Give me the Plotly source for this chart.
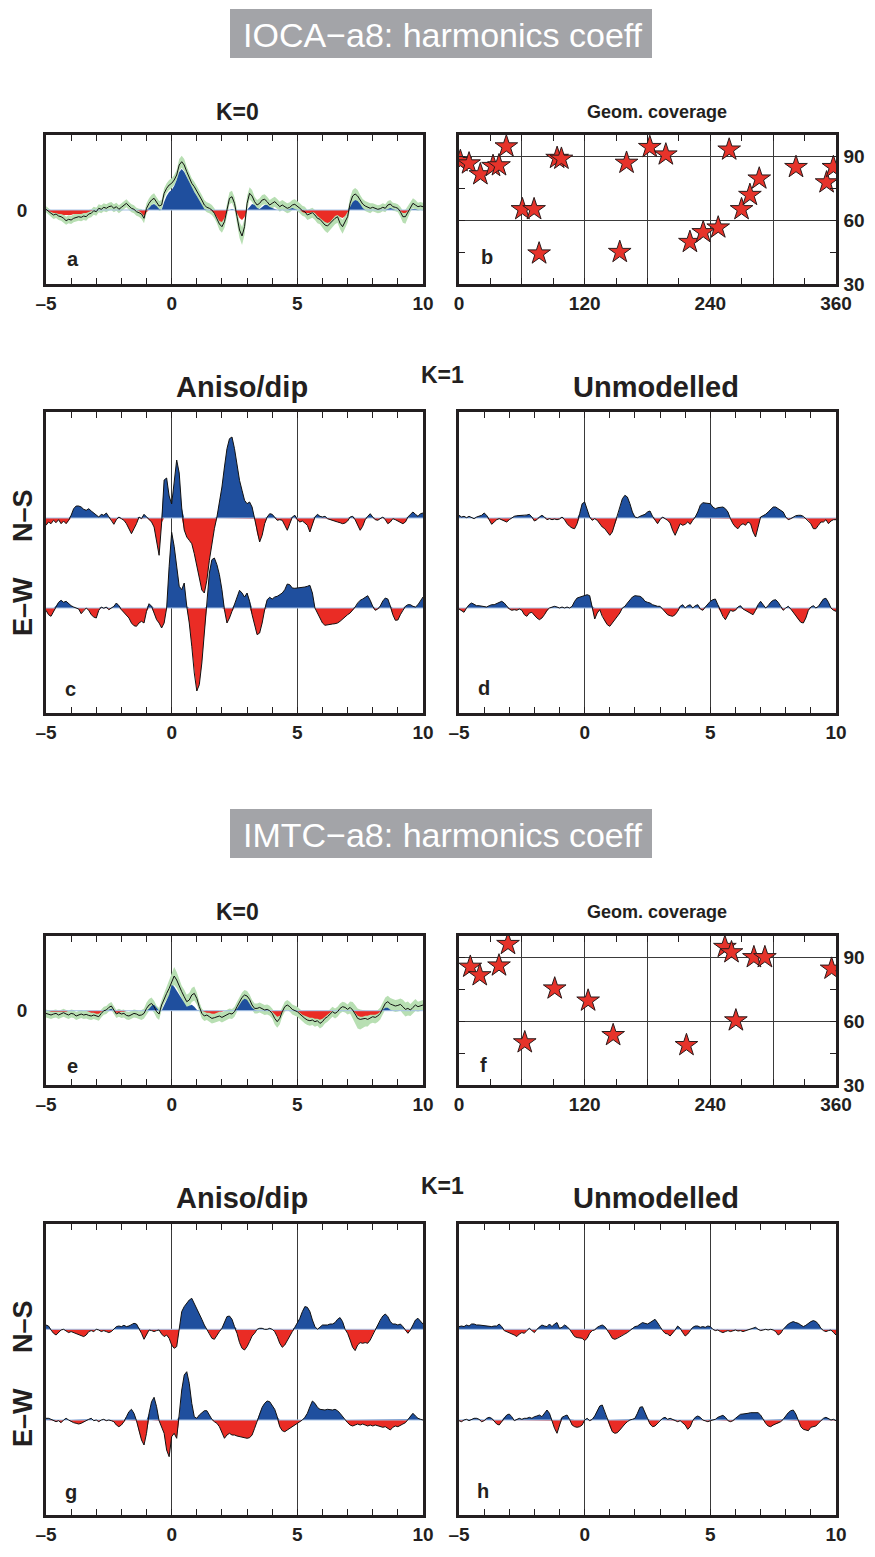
import numpy as np
import plotly.graph_objects as go

# the page body keeps its default 8px margin; keep the figure inside the window
OX, OY = 8, 8
FW, FH = 875 - 2 * OX, 1557 - 2 * OY
INK = "#231f20"
BLUE = "#1f4f9e"
RED = "#ea2c25"
GREEN = "#b8dfb3"
BASE = "#a6c2e6"
FONT = "Liberation Sans, Arial, sans-serif"

# ---- time lag axis (samples every 0.1) ----
lag = np.round(np.linspace(-5, 10, 151), 1)

# ---- panel a : IOCA K=0 (mean trace, fill trace, half-width of band) ----
a_mean = [0.7, -1.7, -3.3, -5, -4, -6, -6.7, -8.3, -10.7, -9.3,
          -10, -8.3, -7.7, -6.7, -7.3, -6, -6.7, -4, -3.3, -0.7,
          -1.7, 1.7, 0.7, 2.7, 1.7, 3.3, 4, 1.7, 3.3, 0.7,
          2.7, 5, 6.7, 4, 1.7, 0.7, -1.7, -2.7, -4, -8.3,
          1.7, 6.7, 10, 11.7, 8.3, 4, 5, 16.7, 21.7, 25,
          26.7, 30, 35, 45, 48.3, 45, 38.3, 31.7, 26.7, 23.3,
          19.3, 15, 10, 5, 2.7, 1.7, 0, -3.3, -8.3, -14,
          -16.7, -11.7, 0, 11.7, 13.3, 6.7, -6.7, -20, -26, -16.7,
          6.7, 16.7, 14, 8.3, 5, 6.7, 10, 10.7, 8.3, 5,
          6.7, 8.3, 6, 3.3, 5, 3.3, 1.7, 2.7, 5, 5.7,
          4, 1.7, -0.7, -1.7, -5, -4, -2.7, -5, -8.3, -9.3,
          -11.7, -15, -16, -13.3, -10.7, -8.3, -6.7, -13.3, -16.7, -11.7,
          -6.7, 6.7, 14, 16, 14, 10, 6, 4, 2.7, 1.7,
          2.7, 1.7, 0.7, 1.3, 2.7, 1.7, 5, 6, 3.3, 2.7,
          1.7, -1.7, -6.7, -6.7, -1.7, 3.3, 6.7, 5, 3.3, 4,
          3.3]
a_fill = [0, -1, -2, -3, -3, -4, -4, -5, -5, -5,
          -5, -4, -4, -4, -4, -3, -3, -2, -1, 0,
          0, 0, 0, 0, 0, 0, 0, 0, 0, 0,
          0, 0, 0, 0, 0, 0, 0, -1, -3, -6,
          -2, 2, 5, 6, 4, 1, 0, 8, 14, 18,
          20, 24, 30, 38, 41, 38, 33, 27, 22, 18,
          14, 10, 5, 1, 0, 0, -1, -3, -7, -11,
          -12, -8, -1, 0, 1, 0, -3, -8, -10, -7,
          0, 3, 6, 5, 2, 1, 3, 5, 5, 3,
          2, 1, 0, 0, 0, 0, 0, 1, 2, 1,
          0, 0, -2, -3, -3, -3, -2, -3, -6, -8,
          -10, -12, -13, -12, -9, -6, -5, -7, -8, -6,
          -2, 3, 8, 10, 9, 6, 2, 0, 0, 0,
          0, 0, 0, 0, 0, 0, 1, 2, 1, 0,
          0, -1, -3, -3, -1, 0, 1, 1, 0, 0,
          0]
a_err = [3, 3, 3, 4, 4, 4, 4, 4, 4, 4,
         4, 4, 4, 4, 4, 4, 4, 4, 4, 4,
         4, 4, 4, 4, 4, 4, 4, 4, 4, 4,
         4, 4, 4, 4, 4, 4, 4, 4, 5, 5,
         5, 5, 5, 5, 5, 5, 5, 5, 5, 5,
         5, 5, 5, 6, 6, 6, 5, 5, 5, 5,
         5, 5, 5, 5, 5, 5, 5, 5, 5, 6,
         6, 6, 6, 6, 6, 6, 7, 8, 9, 8,
         7, 6, 6, 5, 5, 5, 5, 5, 5, 5,
         5, 5, 5, 5, 5, 5, 5, 5, 5, 5,
         5, 5, 5, 5, 5, 5, 5, 5, 5, 5,
         6, 6, 7, 7, 6, 6, 6, 6, 7, 7,
         6, 6, 6, 6, 6, 5, 5, 5, 5, 5,
         4, 4, 4, 4, 4, 4, 4, 4, 4, 4,
         4, 5, 6, 7, 6, 5, 5, 5, 4, 4,
         4]

# ---- panel c : IOCA K=1 Aniso/dip ----
c_ns = [-7.3, -4, -5.7, -2.3, -4.7, -1.7, -5.7, -3, -5.7, -2.3,
        2.7, 9.3, 12, 12, 11, 8.7, 7.7, 9.3, 7, 5,
        3.7, 1, 3.7, 2.7, 5, 1, -1.7, -6.3, -1.7, 1,
        -0.7, -2.3, -5.7, -10.7, -15.7, -10.7, -5.7, 1, -0.7, 3.7,
        1, -1.7, -4, -9, -22.3, -37.3, -5, 38, 40, 22,
        14, 35, 58, 45, 10, -12, -19, -22.3, -25.7, -35.7,
        -47.3, -59, -72, -75, -62.3, -42.3, -24, -10.7, 1, 14.3,
        31, 51, 69.3, 79.3, 81, 69.3, 51, 37.7, 27.7, 17.7,
        14.3, 16, 11, -0.7, -15.7, -24, -17.3, -5.7, 1, 4.3,
        3.7, 1, -2.3, -1.7, -2.3, -7.3, -12.3, -5.7, 1, 2.7,
        -1.7, -4, -3, -5, -7.3, -14, -7.3, 1, 3.7, 1.7,
        1, 1.7, -0.7, -1.7, -2.3, -3, -4, -4.7, -5.7, -5,
        -3, 1, 1.7, -1.7, -7.3, -12.3, -8.3, -1.7, 1.7, 4.3,
        1, -1.7, -2.3, -0.7, 1, -1.7, -5.7, -4, -0.7, -1.7,
        -3, -4, -5.7, -4, 1, 3.7, 6, 3.7, 1.7, 4.3,
        5]
c_ew = [-2.3, -6.7, -8.3, -3.3, 2.3, 5.7, 7.7, 5.7, 6.7, 4.3,
        2.3, 1, 0, -1, -5.7, -2.3, 0, -2.3, -6.7, -9,
        -10, -2.3, 1, -0.3, 1, -1.7, 0, 1.7, 5, 2.3,
        -1.7, -4.3, -6.7, -10, -15, -17.7, -18.3, -15, -13.3, -15,
        -3.3, 4.3, 1.7, -5, -11.7, -15, -20, -15, 0, 41.7,
        75.7, 61.7, 38.3, 21.7, 18.3, 25, 1.7, -15, -38.3, -65,
        -83, -76.7, -55, -25, 1.7, 35, 48.3, 50, 43.3, 33.3,
        18.3, -1.7, -15, -10, -3.3, 3.3, 11, 17.7, 15, 11,
        15, 6.7, -6.7, -18.3, -26.7, -25, -15, -1.7, 8.3, 10.7,
        9, 11, 11.7, 13.3, 15, 18.3, 24, 23.3, 20, 19.7,
        20, 20, 20.7, 21, 21.7, 22.7, 15, 0, -5, -10,
        -15, -17.3, -16.7, -16.7, -16, -15.7, -15, -13.3, -11, -8.3,
        -6.7, -5, -2.3, 1, 5, 7.7, 9, 11, 12.3, 7.7,
        1.7, -2.3, -1, 2, 7, 10, 9, 2, -6.7, -12.3,
        -12, -6.7, -1.7, 1.7, 3.3, 3.3, 1.7, 1, 3.3, 6.7,
        11]

# ---- panel d : IOCA K=1 Unmodelled ----
d_ns = [2.7, 1, 1.7, 0.3, 1.7, 0.3, -0.7, 1, 1.7, 2.7,
        5, 2.7, -1.7, -6.3, -4, -1.7, -0.7, -1.7, -2.3, -4,
        -1.7, 0.3, 1.7, 2.3, 2.3, 2.7, 2.3, 3, 3.7, 1,
        -3, -1.7, 1, 2.7, 1, -1.7, -0.7, -1.7, -1, -1.7,
        -1, 1, -1.7, -5.7, -8.3, -10, -10.7, -5.7, 4.3, 14.3,
        16, 9.3, 1, -2.3, -0.7, -2.3, -5.7, -9, -10.7, -14,
        -17.3, -14, -5.7, 1, 11, 19.3, 22.7, 21, 14.3, 6,
        1, 0.3, 1.7, 2.7, 3.7, 6, 7, 1.7, -2.3, -5.7,
        -1.7, 1, -0.7, -2.3, -5, -12.3, -17.3, -12.3, -5.7, -7.3,
        -6.3, -4, -6.3, -2.3, 1, 6, 12.7, 15.3, 15, 15,
        14.3, 11, 9.3, 10.3, 11, 11, 9.3, 6, -0.7, -5.7,
        -9, -10.7, -7.3, -5.7, -7.3, -4, -5.7, -14, -19, -9,
        1, 2.3, 3.7, 6, 8.3, 11, 11, 9.3, 8.3, 6,
        1, -1.7, -0.7, 1, 2.3, 2.7, 2.7, 1.7, -0.7, -2.3,
        -5.7, -10.7, -10.7, -7.3, -4, -4, -1.7, -5.7, -3, -1.7,
        -1.7]
d_ew = [-1, -2.3, -4.3, 0, 3.3, 5, 4, 2.3, 2.3, 1.7,
        1.7, 1, 2.3, 3.3, 3.3, 4.3, 5, 6.7, 5, 1.7,
        -1, -2.3, -1.7, -2.3, -1, -2.3, -6.7, -8.3, -5, -4.3,
        -7.7, -10, -11.7, -10, -6.7, -2.3, 0, 1, 1.7, 1,
        0, 1, 0, 1, 0, 1.7, 6.7, 10, 11, 11.7,
        12.3, 13.3, 12.3, 1.7, -11, -5, -1.7, -8.3, -13.3, -16.7,
        -18.3, -15, -11.7, -8.3, -5, 0, 1.7, 5, 8.3, 11,
        12.3, 12.3, 11.7, 10, 6.7, 5.7, 5, 3.3, 2.3, 1.7,
        1.7, -1, -4.3, -6.7, -7.7, -8.3, -6.7, -3.3, 1.7, 3.3,
        0, 2.3, 3.3, 0, 2.3, 3.3, -1, -2.3, 1, 4.3,
        6.7, 8.3, 9, 3.3, -3.3, -8.3, -11.7, -6.7, -2.3, -3.3,
        -2.3, 1, 2.3, -1, -2.3, -4.3, -5.7, -6.7, -2.3, 3.3,
        6.7, 3.3, 0, 2.3, 5.7, 7.7, 8.3, 5.7, 1, -2.3,
        0, 1.7, -1, -4.3, -8.3, -11.7, -14.3, -15, -10, -2.3,
        1, 2.3, 0, 1.7, 5.7, 9, 9.7, 5.7, 0, -2.3,
        -3.3]

# ---- panel e : IMTC K=0 ----
e_mean = [-2.7, -3.3, -4.3, -3.3, -2.7, -4.3, -3.3, -2, -3.3, -4.3,
          -2.7, -3.3, -5.3, -4.3, -3.3, -4.3, -3.7, -4.7, -5.3, -4.3,
          -5.3, -6, -2.7, 0, 0.7, 3.3, 4.7, 0.7, -3.3, -2,
          -3.3, -2.7, -4.7, -5.3, -4.3, -2.7, -3.3, -4.7, -4.3, -2.7,
          2.3, 5.7, 7.3, 4, -1, -3.3, 5.7, 12.3, 17.3, 22.3,
          29, 34.7, 30.7, 24, 19, 14, 9, 10.7, 15.7, 17.3,
          12.3, 4, -2.7, -5.3, -4.3, -6, -7.7, -7, -6, -5.3,
          -6.7, -5.3, -4.3, -2.7, -3.3, -1, 4, 9, 13.3, 15.7,
          14.7, 11.3, 5.7, 2.3, 2.3, 3.3, 2.3, 0.7, 1.3, 0,
          -2.7, -7.7, -11, -7.7, -1, 4, 5.7, 4, 1.3, 0,
          -1, -3.3, -6, -7.7, -9.3, -10, -9.3, -11, -10, -12.7,
          -11, -7.7, -6, -3.3, -1, -2.7, -1, 2.3, 4, 3.3,
          1.3, 3.3, 0.7, -3.3, -7.7, -8.7, -8.3, -7.7, -8.7, -7,
          -6, -6.7, -5.3, -2.7, 2.3, 7.3, 9, 6.7, 5.7, 4.7,
          5.3, 6.3, 4, 1.3, 2.3, 0.7, 3.3, 5.7, 4, 4.7,
          5.7]
e_fill = [0, 0, -1, -1, -1, -1, -1, -1, -1, 0,
          0, 0, 0, 0, 0, 0, 0, -1, -2, -2,
          -3, -3, -1, 0, 0, 1, 2, 0, -2, -2,
          -1, -1, 0, 0, 0, 0, 0, 0, 0, 0,
          0, 2, 5, 6, 3, 0, 0, 5, 10, 16,
          26, 24, 20, 16, 12, 8, 4, 5, 6, 4,
          1, 0, 0, -1, -2, -2, -3, -3, -2, -1,
          -1, 0, 0, 0, 0, 0, 2, 6, 10, 12,
          11, 7, 3, 1, 0, 0, 0, 0, 1, 0,
          -1, -4, -6, -5, -1, 0, 0, 0, 0, 0,
          0, -2, -4, -5, -6, -7, -7, -8, -8, -9,
          -8, -6, -4, -2, 0, 0, 0, 0, 0, 0,
          0, 0, 0, -2, -5, -6, -6, -5, -5, -4,
          -4, -4, -3, -1, 1, 3, 3, 1, 0, 0,
          0, 0, 0, 0, 0, 0, 0, 0, 0, 0,
          0]
e_err = [4, 4, 4, 4, 4, 4, 4, 4, 4, 4,
         4, 4, 4, 4, 4, 4, 4, 4, 4, 4,
         4, 4, 4, 4, 4, 4, 4, 4, 4, 4,
         4, 4, 4, 4, 4, 4, 4, 4, 5, 5,
         6, 6, 6, 6, 6, 6, 5, 5, 6, 7,
         8, 9, 8, 7, 6, 7, 7, 7, 7, 7,
         6, 5, 5, 5, 5, 5, 5, 5, 5, 5,
         5, 5, 5, 5, 5, 5, 5, 5, 5, 5,
         5, 5, 5, 5, 5, 5, 5, 5, 5, 5,
         5, 6, 6, 6, 5, 5, 5, 5, 5, 5,
         5, 5, 5, 5, 5, 5, 5, 5, 5, 5,
         5, 5, 5, 5, 5, 5, 5, 5, 5, 5,
         5, 6, 8, 9, 10, 10, 9, 8, 7, 6,
         6, 6, 6, 6, 6, 6, 6, 6, 6, 6,
         6, 6, 7, 7, 7, 6, 6, 6, 5, 5,
         5]

# ---- panel g : IMTC K=1 Aniso/dip ----
g_ns = [4.3, 3.3, -0.7, -4, -5.7, -3.3, -0.7, 0, -1.3, -3.3,
        -2.3, -3.3, -4.7, -5.7, -6.7, -7.3, -5.7, -2.3, -1.3, -2.3,
        0, -0.7, -2.3, -1.3, -2.3, -3.3, -2.3, 0, 2.7, 3.3,
        2.7, 4, 2.7, 3.3, 4.3, 6, 5.3, 1, -4, -10,
        -5.7, -0.7, -1.3, -2.3, -1.3, -0.7, -4.7, -7.3, -5.7, -9,
        -15.7, -19, -17.3, -0.7, 17.7, 22.7, 26, 29.3, 31, 26,
        20, 15.3, 10, 4.3, 0, -4, -9, -10, -5.7, -2.3,
        1, 7.7, 12.7, 13.3, 10, 2.7, -4, -13.3, -19, -20.7,
        -17.3, -12.3, -6.7, -4, 0, 1, 1, 0, 0, 1,
        0, -2.3, -7.3, -14, -18, -15.7, -10.7, -6.7, -2.3, 2,
        6, 11, 17.7, 22.7, 22, 17.7, 9.3, 2.7, 0, 2,
        4.3, 4.3, 4.3, 5.3, 5.3, 6.7, 10, 11.7, 7.7, 0,
        -4, -10.7, -18, -21.3, -15.7, -13.3, -14, -13.3, -14, -10.7,
        -5.7, 0, 4.3, 9.3, 13.3, 15.3, 12.7, 7.7, 5.3, 5.3,
        4.3, 5.3, 2.7, -1.3, -4, -0.7, 4.3, 9.3, 11, 7.7,
        5.3]
g_ew = [1.7, 1.7, 0.7, -0.7, -1.7, -0.7, -2.7, 0, 1.7, 0,
        -1.7, -2.7, -3.3, -4, -3.3, -1.7, -0.7, 0.7, 1.7, -0.7,
        0, -1.7, 0, 0.7, -0.7, 0, -0.7, -1.7, -5, -6.7,
        -5, -1.7, 3.3, 8.3, 10.7, 6.7, -0.7, -11.7, -20, -25,
        -13.3, 6.7, 18.3, 22.7, 13.3, -0.7, -6.7, -13.3, -30, -36.7,
        -16.7, -13.3, -18.3, 3.3, 30, 45, 48.3, 36.7, 16.7, 3.3,
        1.7, 5, 7.3, 9.3, 9.3, 5, 0.7, -1.7, -3.3, -6.7,
        -13.3, -18.3, -15, -13.3, -15, -15, -16, -16.7, -17.3, -18.3,
        -18.3, -17.7, -15, -8.3, -0.7, 6.7, 12.7, 16.7, 19, 18.3,
        15, 10.7, 3.3, -6.7, -10.7, -11.7, -10, -8.3, -6.7, -5,
        -3.3, -1.7, 0, 2.7, 6.7, 13.3, 19, 16.7, 12.7, 10.7,
        10, 10, 10.7, 10, 10, 10.7, 9.3, 6.7, 3.3, 0,
        -2.7, -5, -6, -5, -4, -5, -4, -5, -6, -5,
        -6, -5, -6, -6.7, -7.3, -6.7, -8.3, -10, -7.3, -6,
        -6.7, -5, -4, -2.7, 0.7, 4, 6.7, 4, 1.7, 0.7,
        0]

# ---- panel h : IMTC K=1 Unmodelled ----
h_ns = [2.7, 3.3, 2.7, 4.3, 3.3, 5.3, 5.3, 4.3, 4.3, 4,
        4, 4, 3.3, 2.7, 3.3, 3.3, 5.3, 2.7, -1.3, -2.3,
        -3.3, -4, -5.7, -7.3, -4.7, -3.3, -4, -1.3, 1, -1.3,
        -3.3, 0, 2.7, 4.3, 3.3, 2.7, 5.3, 2.7, 5.3, 6.7,
        1, 2, 4.3, 2.7, 0, -4, -7.3, -8.3, -9, -9,
        -11.3, -9, -4, -1.3, -0.7, 2, 3.3, 4.3, 2.7, -0.7,
        -4.7, -9, -10, -9, -7.3, -5.7, -4.7, -3.3, -1.3, 1,
        2.7, 3.3, 5.3, 6.7, 6, 5.3, 6.7, 8.7, 10, 6.7,
        2, -1.3, -4, -4.7, -6.7, -4, -0.7, 3.3, 1, -3.3,
        -6.7, -4.7, -0.7, 2, 3.3, 3.3, 2, 2.7, 2, 3.3,
        2.7, 0, -1.3, -0.7, -2.3, -3.3, -2.3, -1.3, -2.3, -1.3,
        -0.7, -1.7, -1.3, -2.3, -1.3, -0.7, 0, 1, 2, 0,
        -1.3, -0.7, 0, -0.7, 0, -0.7, -2.3, -5.7, -4, 0,
        2.7, 5.3, 6.7, 7.7, 6.7, 6, 4.3, 2.7, 4, 6,
        7.7, 8.7, 7.7, 5.3, 1, -1.3, -2.3, -1.3, -0.7, -3.3,
        -5.7]
h_ew = [-0.7, -1.7, 0, 0.7, -0.7, 0.7, 1.7, 1.7, 0.7, -1.7,
        -0.7, 1.7, 2.7, 1.7, -0.7, -4, -5, -1.7, 2.7, 5,
        6, 3.3, -0.7, 0.7, 1.7, 0.7, 1.7, 1.7, 2.7, 1.7,
        3.3, 4, 5, 3.3, 7.3, 10, 6.7, -0.7, -8.3, -13.3,
        -5, 2.7, 4, 5, 0.7, -5, -6.7, -7.3, -6.7, -5,
        0, 1.7, -0.7, 0.7, 4, 9.3, 14, 15, 8.3, 0.7,
        -6.7, -11.7, -13.3, -12.7, -10, -6.7, -4, -1.7, 0, 0.7,
        1.7, 6.7, 12.7, 13.3, 8.3, 1.7, -4, -6.7, -6, -3.3,
        0, 1.7, 2.7, 0.7, 1.7, 0.7, -0.7, -1.7, -0.7, -2.7,
        -5, -9.3, -6.7, -0.7, 2.7, 4, 2.7, 0, -0.7, -1.7,
        -0.7, 0, 0.7, 2.7, 4, 4.7, 2.7, -0.7, -1.7, -0.7,
        1.7, 4, 5.7, 6, 6.7, 6.7, 7.3, 7.3, 6.7, 7.3,
        5, 0.7, -3.3, -6, -6.7, -5, -4, -3.3, -1.7, 0.7,
        4, 7.3, 9.3, 10, 6, -0.7, -6.7, -9.3, -10, -10.7,
        -7.3, -6.7, -6, -3.3, -0.7, 1.7, 2.7, 1.7, 0, 0.7,
        -0.7]

# ---- geometric coverage (azimuth deg, incidence/elevation deg) ----
b_az = [1.3, 9.6, 20.4, 32.5, 38.2, 45.2, 60.5, 71.7, 76.5, 93.7, 97.8, 153.5, 160,
        182.2, 197.5, 220.5, 233.2, 247.5, 258, 269.8, 277.8, 286.7, 321.8, 351, 357.5]
b_el = [87.7, 86.6, 81.5, 85.4, 85.7, 94.6, 65.1, 65.1, 44.3, 89.2, 88.8, 45, 86.9,
        94.3, 90.8, 49.7, 54.3, 56.5, 93.1, 65.1, 71.8, 79.5, 84.9, 77.7, 84.9]
f_az = [10.8, 19.8, 38.2, 46.8, 62.8, 91.4, 123.3, 147.2, 217.2, 253.9, 260.2, 264.4,
        281.6, 292.1, 355.8]
f_el = [85.5, 81.5, 86.1, 96.2, 50, 75.3, 69.6, 53.4, 48.7, 94.8, 92.3, 60.3, 90, 90, 84.6]

lag_ticks = [-5, 0, 5, 10]
lag_labels = ["\u20135", "0", "5", "10"]
az_ticks = [0, 60, 120, 180, 240, 300, 360]
az_labels = ["0", "", "120", "", "240", "", "360"]
el_ticks = [30, 60, 90]
el_labels = ["30", "60", "90"]

# ------------------------------------------------------------------
def px_x(p):
    return (p - OX) / FW


def px_y(p):
    return 1 - (p - OY) / FH


def xdom(p0, p1):
    return [px_x(p0), px_x(p1)]


def ydom(p0, p1):
    return [px_y(p1), px_y(p0)]


TICKF = dict(family=FONT, size=19, color=INK, weight="bold")


def lag_xaxis(dom, anchor):
    return dict(domain=dom, anchor=anchor, range=[-5, 10], tickmode="array",
                tickvals=lag_ticks, ticktext=lag_labels, ticks="inside", ticklen=6,
                tickwidth=1, tickcolor=INK, showgrid=True, gridcolor="#3a3a3a",
                gridwidth=1, zeroline=False, tickfont=TICKF, ticklabelstandoff=0,
                minor=dict(dtick=1, tick0=0, ticks="inside", ticklen=6, tickwidth=1,
                           tickcolor=INK, showgrid=False),
                showline=True, linewidth=2.5, linecolor=INK, mirror="ticks",
                fixedrange=True)


def wave_yaxis(dom, anchor, rng, zero_label=False):
    d = dict(domain=dom, anchor=anchor, range=rng, showline=True, linewidth=2.5,
             linecolor=INK, mirror=True, ticks="", showgrid=False, zeroline=False,
             fixedrange=True)
    if zero_label:
        d.update(tickmode="array", tickvals=[0], ticktext=["0"], tickfont=TICKF,
                 ticklabelstandoff=12, showticklabels=True)
    else:
        d.update(showticklabels=False)
    return d


def overlay_yaxis(anchor, over, rng):
    return dict(anchor=anchor, overlaying=over, range=rng, visible=False,
                showgrid=False, zeroline=False, fixedrange=True)


def az_xaxis(dom, anchor):
    return dict(domain=dom, anchor=anchor, range=[0, 360], tickmode="array",
                tickvals=az_ticks, ticktext=az_labels, ticks="inside", ticklen=6,
                tickwidth=1, tickcolor=INK, showgrid=True, gridcolor="#3a3a3a",
                gridwidth=1, zeroline=False, tickfont=TICKF, ticklabelstandoff=0,
                minor=dict(dtick=30, tick0=0, ticks="inside", ticklen=6, tickwidth=1,
                           tickcolor=INK, showgrid=False),
                showline=True, linewidth=2.5, linecolor=INK, mirror="ticks",
                fixedrange=True)


def el_yaxis(dom, anchor):
    return dict(domain=dom, anchor=anchor, range=[30, 100], side="right",
                tickmode="array", tickvals=el_ticks, ticktext=el_labels,
                ticks="inside", ticklen=6, tickwidth=1, tickcolor=INK,
                showgrid=True, gridcolor="#3a3a3a", gridwidth=1, zeroline=False,
                tickfont=TICKF, ticklabelstandoff=1,
                minor=dict(dtick=15, tick0=0, ticks="inside", ticklen=6, tickwidth=1,
                           tickcolor=INK, showgrid=False),
                showline=True, linewidth=2.5, linecolor=INK, mirror="ticks",
                fixedrange=True)


fig = go.Figure()


def add_wave(xa, ya, values, fill_values=None):
    v = np.asarray(values, dtype=float)
    f = v if fill_values is None else np.asarray(fill_values, dtype=float)
    common = dict(x=lag, xaxis=xa, yaxis=ya, mode="lines", hoverinfo="skip",
                  showlegend=False)
    fig.add_trace(go.Scatter(y=np.maximum(f, 0), fill="tozeroy", fillcolor=BLUE,
                             line=dict(width=0, color=BLUE), **common))
    fig.add_trace(go.Scatter(y=np.minimum(f, 0), fill="tozeroy", fillcolor=RED,
                             line=dict(width=0, color=RED), **common))
    fig.add_trace(go.Scatter(x=[lag[0], lag[-1]], y=[0, 0], xaxis=xa, yaxis=ya,
                             mode="lines", line=dict(width=1, color=BASE),
                             hoverinfo="skip", showlegend=False))
    fig.add_trace(go.Scatter(y=v, line=dict(width=1, color="#111111"), **common))


def add_band(xa, ya, mean, err):
    m = np.asarray(mean, dtype=float)
    e = np.asarray(err, dtype=float)
    common = dict(x=lag, xaxis=xa, yaxis=ya, mode="lines", hoverinfo="skip",
                  showlegend=False)
    fig.add_trace(go.Scatter(y=m - e, line=dict(width=0, color=GREEN), **common))
    fig.add_trace(go.Scatter(y=m + e, fill="tonexty", fillcolor=GREEN,
                             line=dict(width=0, color=GREEN), **common))


def add_stars(xa, ya, az, el):
    fig.add_trace(go.Scatter(x=az, y=el, xaxis=xa, yaxis=ya, mode="markers",
                             marker=dict(symbol="star", size=17, color="#e6332a",
                                         line=dict(width=1, color="#2a1a1a")),
                             hoverinfo="skip", showlegend=False))


# panel a
add_band("x", "y", a_mean, a_err)
add_wave("x", "y", a_mean, a_fill)
# panel b
add_stars("x2", "y2", b_az, b_el)
# panel c
add_wave("x3", "y3", c_ns)
add_wave("x3", "y4", c_ew)
# panel d
add_wave("x4", "y5", d_ns)
add_wave("x4", "y6", d_ew)
# panel e
add_band("x5", "y7", e_mean, e_err)
add_wave("x5", "y7", e_mean, e_fill)
# panel f
add_stars("x6", "y8", f_az, f_el)
# panel g
add_wave("x7", "y9", g_ns)
add_wave("x7", "y10", g_ew)
# panel h
add_wave("x8", "y11", h_ns)
add_wave("x8", "y12", h_ew)

L0, L1, R0, R1 = 46, 423, 459, 836
G_TOP, G_BOT = 1224, 1515
NS_RNG_1, EW_RNG_1 = [-195, 106], [-105, 196]
NS_RNG_2, EW_RNG_2 = [-185.7, 105.3], [-95, 196]

layout = dict(
    width=FW, height=FH, autosize=False,
    margin=dict(l=0, r=0, t=0, b=0, pad=0, autoexpand=False),
    paper_bgcolor="white", plot_bgcolor="white",
    showlegend=False,
    font=dict(family=FONT, color=INK),
    xaxis=lag_xaxis(xdom(L0, L1), "y"),
    yaxis=wave_yaxis(ydom(135, 284), "x", [-74, 75], zero_label=True),
    xaxis2=az_xaxis(xdom(R0, R1), "y2"),
    yaxis2=el_yaxis(ydom(135, 284), "x2"),
    xaxis3=lag_xaxis(xdom(L0, L1), "y3"),
    yaxis3=wave_yaxis(ydom(412, 713), "x3", NS_RNG_1),
    yaxis4=overlay_yaxis("x3", "y3", EW_RNG_1),
    xaxis4=lag_xaxis(xdom(R0, R1), "y5"),
    yaxis5=wave_yaxis(ydom(412, 713), "x4", NS_RNG_1),
    yaxis6=overlay_yaxis("x4", "y5", EW_RNG_1),
    xaxis5=lag_xaxis(xdom(L0, L1), "y7"),
    yaxis7=wave_yaxis(ydom(936, 1085), "x5", [-74.3, 74.7], zero_label=True),
    xaxis6=az_xaxis(xdom(R0, R1), "y8"),
    yaxis8=el_yaxis(ydom(936, 1085), "x6"),
    xaxis7=lag_xaxis(xdom(L0, L1), "y9"),
    yaxis9=wave_yaxis(ydom(G_TOP, G_BOT), "x7", NS_RNG_2),
    yaxis10=overlay_yaxis("x7", "y9", EW_RNG_2),
    xaxis8=lag_xaxis(xdom(R0, R1), "y11"),
    yaxis11=wave_yaxis(ydom(G_TOP, G_BOT), "x8", NS_RNG_2),
    yaxis12=overlay_yaxis("x8", "y11", EW_RNG_2),
)
fig.update_layout(**layout)

# ---- text ----
annotations = []


def text(t, px, py, size, bold=True, color=INK, angle=0, family=FONT):
    annotations.append(dict(text=t, x=px_x(px), y=px_y(py), xref="paper", yref="paper",
                            xanchor="center", yanchor="middle", showarrow=False,
                            textangle=angle,
                            font=dict(family=family, size=size, color=color,
                                      weight="bold" if bold else "normal")))


# title boxes
shapes = []
for y0, y1 in [(9, 58), (809, 858)]:
    shapes.append(dict(type="rect", xref="paper", yref="paper", x0=px_x(230),
                       x1=px_x(652), y0=px_y(y1), y1=px_y(y0), fillcolor="#a3a4a8",
                       line=dict(width=0), layer="below"))
text("IOCA\u2212a8: harmonics coeff", 443, 35, 34, bold=False, color="white")
text("IMTC\u2212a8: harmonics coeff", 443, 835, 34, bold=False, color="white")

for off in [0, 800]:
    text("K=0", 237, 112 + off, 23)
    text("Geom. coverage", 657, 112 + off, 18)
for off, k1 in [(0, 375), (811, 375 + 811)]:
    text("Aniso/dip", 242, 387 + off, 29)
    text("Unmodelled", 656, 387 + off, 29)
    text("K=1", 442, k1, 23)
    text("N\u2013S", 23, 516 + off, 27, angle=-90)
    text("E\u2013W", 23, 607 + off, 27, angle=-90)

for lab, px, py in [("a", 73, 259), ("b", 487, 257), ("c", 71, 689), ("d", 484, 688),
                    ("e", 72, 1066), ("f", 484, 1065), ("g", 71, 1492), ("h", 483, 1491)]:
    text(lab, px, py, 20)

fig.update_layout(annotations=annotations, shapes=shapes)

fig.write_html("out.html")
